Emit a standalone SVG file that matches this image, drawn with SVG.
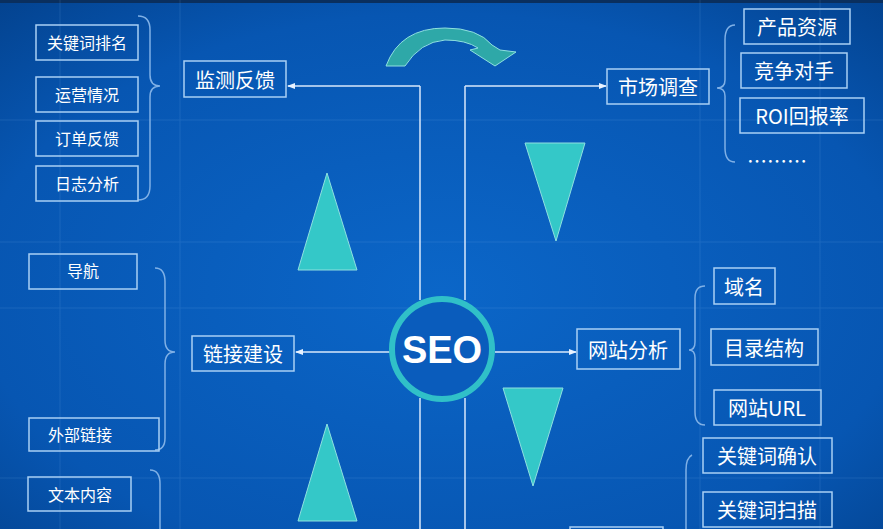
<svg xmlns="http://www.w3.org/2000/svg" width="883" height="529" viewBox="0 0 883 529">
<defs>
<radialGradient id="bg" cx="0.5" cy="0.55" r="0.75">
<stop offset="0" stop-color="#0b66c8"/><stop offset="0.7" stop-color="#0756b2"/><stop offset="1" stop-color="#03428e"/>
</radialGradient>
<marker id="ah" markerWidth="8" markerHeight="8" refX="7" refY="4" orient="auto" markerUnits="userSpaceOnUse"><path d="M0,1 L8,4 L0,7 Z" fill="#e8f2ff"/></marker>
</defs>
<style>
.box{fill:none;stroke:#a9d0f5;stroke-width:1.5}
.t{fill:#fff;font-family:"Noto Sans CJK SC","Liberation Sans",sans-serif;text-anchor:middle;dominant-baseline:central}
.s{font-size:16px}.m{font-size:20px}
.br{fill:none;stroke:#7fb0e6;stroke-width:1.5}
.ln{fill:none;stroke:#d8e8fb;stroke-width:1.5}
.tri{fill:#34c8c8;stroke:#8fe0e0;stroke-width:1}
</style>
<rect width="883" height="529" fill="url(#bg)"/>
<rect width="883" height="3" fill="#0a2f5e"/>
<g opacity="0.12" stroke="#9fd0ff" stroke-width="1">
<path d="M0,242 H883 M0,308 H883 M0,478 H883 M0,120 H883"/>
<path d="M60,0 V529 M180,0 V529 M700,0 V529 M820,0 V529"/>
</g>
<g id="connectors">
<path class="ln" d="M420,86 V300 M420,398 V529 M465,86 V300 M465,398 V529"/>
<path class="ln" d="M420,86 H288" marker-end="url(#ah)"/>
<path class="ln" d="M465,86 H606" marker-end="url(#ah)"/>
<path class="ln" d="M495,352 H576" marker-end="url(#ah)"/>
<path class="ln" d="M390,352 H296" marker-end="url(#ah)"/>
<path class="br" d="M138,16 Q150,16 150,30 V75 Q150,86 160,86 Q150,86 150,97 V186 Q150,200 138,200"/>
<path class="br" d="M155,268 Q165,268 165,282 V340 Q165,352 175,352 Q165,352 165,364 V438 Q165,450 155,450"/>
<path class="br" d="M150,470 Q160,470 160,484 V529"/>
<path class="br" d="M735,25 Q725,25 725,40 V80 Q725,88 717,88 Q725,88 725,96 V148 Q725,162 735,162"/>
<path class="br" d="M705,286 Q695,286 695,298 V342 Q695,350 689,350 Q695,350 695,358 V412 Q695,425 705,425"/>
<path class="br" d="M692,455 Q686,458 686,470 V529"/>
</g>
<g id="cycle">
<path d="M386,66 Q400,28 445,28 Q478,28 492,45 L500,50 L516,52 L495,66 L470,50 L478,48 Q466,40 445,40 Q420,42 405,66 Z" fill="#2ea8a8" stroke="#8fe0e0" stroke-width="1"/>
<polygon class="tri" points="298,270 327,173 357,270"/>
<polygon class="tri" points="525,143 585,143 556,241"/>
<polygon class="tri" points="503,388 563,388 533,486"/>
<polygon class="tri" points="298,521 327,424 357,521"/>
</g>
<g id="seo"><circle cx="442" cy="349" r="50" fill="#0a5cbc" stroke="#30c0c8" stroke-width="6"/><text class="t" x="442" y="350" style="font-family:'Liberation Sans',sans-serif;font-weight:bold;font-size:38px">SEO</text></g>
<g id="n1"><rect class="box" x="36" y="25" width="102" height="35"/><text class="t s" x="87" y="42">关键词排名</text></g>
<g id="n2"><rect class="box" x="36" y="77" width="102" height="35"/><text class="t s" x="87" y="94">运营情况</text></g>
<g id="n3"><rect class="box" x="36" y="121" width="102" height="35"/><text class="t s" x="87" y="138">订单反馈</text></g>
<g id="n4"><rect class="box" x="36" y="166" width="102" height="35"/><text class="t s" x="87" y="183">日志分析</text></g>
<g id="n5"><rect class="box" x="184" y="61" width="102" height="36"/><text class="t m" x="235" y="79">监测反馈</text></g>
<g id="n6"><rect class="box" x="607" y="69" width="102" height="35"/><text class="t m" x="658" y="86">市场调查</text></g>
<g id="n7"><rect class="box" x="744" y="9" width="106" height="35"/><text class="t m" x="797" y="26">产品资源</text></g>
<g id="n8"><rect class="box" x="741" y="53" width="106" height="35"/><text class="t m" x="794" y="70">竞争对手</text></g>
<g id="n9"><rect class="box" x="740" y="98" width="124" height="35"/><text class="t m" x="802" y="115">ROI回报率</text></g>
<g id="n10"><text class="t m" x="777" y="160">………</text></g>
<g id="n11"><rect class="box" x="29" y="254" width="108" height="35"/><text class="t s" x="83" y="270">导航</text></g>
<g id="n12"><rect class="box" x="29" y="418" width="130" height="33"/><text class="t s" x="80" y="434">外部链接</text></g>
<g id="n13"><rect class="box" x="28" y="477" width="103" height="34"/><text class="t s" x="80" y="494">文本内容</text></g>
<g id="n14"><rect class="box" x="192" y="336" width="102" height="35"/><text class="t m" x="243" y="353">链接建设</text></g>
<g id="n15"><rect class="box" x="577" y="329" width="103" height="40"/><text class="t m" x="628" y="349">网站分析</text></g>
<g id="n16"><rect class="box" x="714" y="268" width="61" height="36"/><text class="t m" x="744" y="286">域名</text></g>
<g id="n17"><rect class="box" x="711" y="329" width="107" height="36"/><text class="t m" x="764" y="347">目录结构</text></g>
<g id="n18"><rect class="box" x="714" y="390" width="107" height="35"/><text class="t m" x="767" y="407">网站URL</text></g>
<g id="n19"><rect class="box" x="703" y="438" width="129" height="35"/><text class="t m" x="767" y="455">关键词确认</text></g>
<g id="n20"><rect class="box" x="703" y="492" width="129" height="35"/><text class="t m" x="767" y="509">关键词扫描</text></g>
<g id="n21"><rect class="box" x="570" y="527" width="93" height="10"/></g>
</svg>
